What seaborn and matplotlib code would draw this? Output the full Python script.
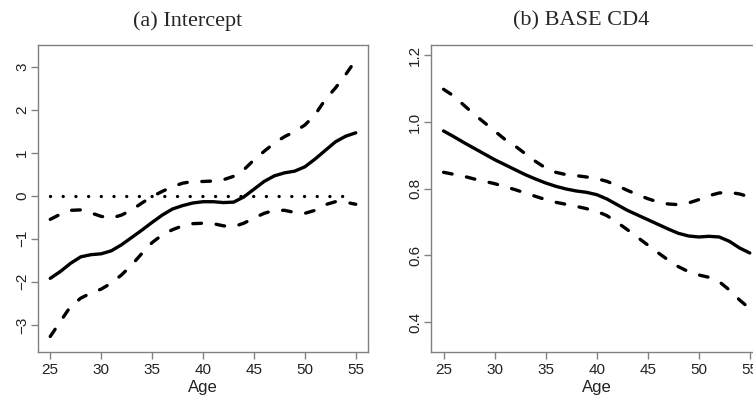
import numpy as np
import pandas as pd
import matplotlib
matplotlib.use("Agg")
import matplotlib.pyplot as plt
import seaborn as sns

age = list(range(25, 56))

# (a) Intercept
int_est = [-1.92, -1.76, -1.57, -1.42, -1.37, -1.35, -1.28, -1.14, -0.97, -0.80,
           -0.62, -0.45, -0.31, -0.23, -0.17, -0.14, -0.14, -0.16, -0.15, -0.03,
           0.15, 0.33, 0.46, 0.53, 0.57, 0.67, 0.85, 1.05, 1.25, 1.38, 1.46]
int_upper = [-0.55, -0.43, -0.34, -0.33, -0.40, -0.48, -0.52, -0.45, -0.33, -0.17,
             -0.02, 0.10, 0.21, 0.29, 0.33, 0.33, 0.34, 0.37, 0.45, 0.60,
             0.83, 1.03, 1.22, 1.37, 1.49, 1.64, 1.88, 2.23, 2.50, 2.81, 3.15]
int_lower = [-3.27, -2.92, -2.57, -2.38, -2.26, -2.17, -2.03, -1.84, -1.61, -1.34,
             -1.09, -0.91, -0.79, -0.70, -0.65, -0.64, -0.65, -0.70, -0.72, -0.64,
             -0.52, -0.41, -0.34, -0.34, -0.39, -0.41, -0.34, -0.21, -0.14, -0.15, -0.20]
zero_age = [25, 54.3]
zero_val = [0, 0]

# (b) BASE CD4
cd4_est = [0.973, 0.956, 0.938, 0.921, 0.904, 0.887, 0.872, 0.857, 0.842, 0.829,
           0.817, 0.807, 0.799, 0.793, 0.789, 0.782, 0.769, 0.752, 0.735, 0.721,
           0.707, 0.693, 0.679, 0.666, 0.658, 0.655, 0.657, 0.655, 0.642, 0.622, 0.607]
cd4_upper = [1.098, 1.078, 1.050, 1.023, 0.998, 0.973, 0.948, 0.928, 0.905, 0.882,
             0.862, 0.849, 0.842, 0.839, 0.835, 0.830, 0.822, 0.809, 0.795, 0.782,
             0.770, 0.760, 0.754, 0.752, 0.757, 0.767, 0.779, 0.787, 0.789, 0.784, 0.775]
cd4_lower = [0.849, 0.843, 0.837, 0.829, 0.822, 0.815, 0.806, 0.797, 0.787, 0.777,
             0.767, 0.759, 0.753, 0.747, 0.740, 0.732, 0.719, 0.699, 0.677, 0.654,
             0.631, 0.608, 0.586, 0.566, 0.551, 0.541, 0.534, 0.521, 0.496, 0.466, 0.440]

sns.set_theme(style="white")
plt.rcParams["font.family"] = ["Liberation Sans", "DejaVu Sans"]

fig = plt.figure(figsize=(7.53, 4.03), dpi=100)
ax1 = fig.add_axes([0.0505, 0.1266, 0.4382, 0.7618])
ax2 = fig.add_axes([0.5728, 0.1266, 0.4392, 0.7618])

solid = dict(color="black", lw=2.4, solid_capstyle="round")
dashed = dict(color="black", lw=2.4, linestyle=(0, (2.6, 4.4)), dash_capstyle="round")
dotted = dict(color="black", lw=2.4, linestyle=(0, (0.01, 3.8)), dash_capstyle="round")

df_a = pd.DataFrame({"Age": age, "est": int_est, "up": int_upper, "lo": int_lower})
df_b = pd.DataFrame({"Age": age, "est": cd4_est, "up": cd4_upper, "lo": cd4_lower})

sns.lineplot(x=zero_age, y=zero_val, ax=ax1, **dotted)
sns.lineplot(data=df_a, x="Age", y="up", ax=ax1, **dashed)
sns.lineplot(data=df_a, x="Age", y="lo", ax=ax1, **dashed)
sns.lineplot(data=df_a, x="Age", y="est", ax=ax1, **solid)

sns.lineplot(data=df_b, x="Age", y="up", ax=ax2, **dashed)
sns.lineplot(data=df_b, x="Age", y="lo", ax=ax2, **dashed)
sns.lineplot(data=df_b, x="Age", y="est", ax=ax2, **solid)

ax1.set_ylim(-3.63, 3.50)
ax1.set_yticks([-3, -2, -1, 0, 1, 2, 3])
ax1.set_yticklabels(["\u22123", "\u22122", "\u22121", "0", "1", "2", "3"])
ax2.set_ylim(0.31, 1.231)
ax2.set_yticks([0.4, 0.6, 0.8, 1.0, 1.2])
ax2.set_yticklabels(["0.4", "0.6", "0.8", "1.0", "1.2"])

for ax in (ax1, ax2):
    ax.set_xlim(23.8, 56.2)
    ax.set_xticks([25, 30, 35, 40, 45, 50, 55])
    ax.set_xlabel("Age", fontsize=12, color="#222222", labelpad=2)
    ax.set_ylabel("")
    for s in ax.spines.values():
        s.set_color("#808080")
        s.set_linewidth(1.0)
        s.set_visible(True)
    ax.tick_params(axis="both", direction="out", length=5, width=1.0, color="#808080",
                   labelsize=11, labelcolor="#222222", pad=3,
                   bottom=True, left=True, top=False, right=False)
    ax.tick_params(axis="y", pad=1.5)
    for lab in ax.get_yticklabels():
        lab.set_rotation(90)
        lab.set_va("center")

fig.text(0.2497, 0.948, "(a) Intercept", ha="center", va="center",
         fontsize=16, family="Liberation Serif")
fig.text(0.7716, 0.948, "(b) BASE CD4", ha="center", va="center",
         fontsize=16, family="Liberation Serif")

fig.savefig("out.png", dpi=100)
